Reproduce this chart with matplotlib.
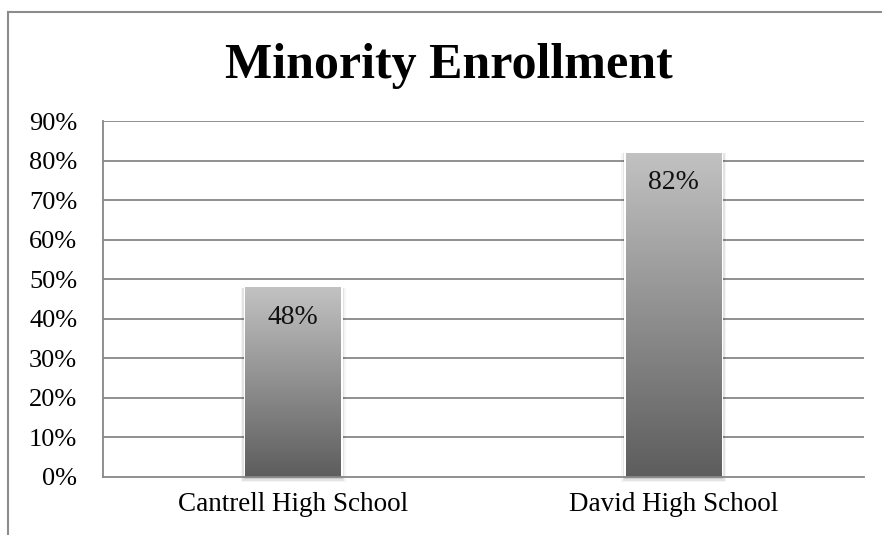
import matplotlib.pyplot as plt
import numpy as np
from matplotlib.colors import LinearSegmentedColormap
from matplotlib.lines import Line2D

schools = ["Cantrell High School", "David High School"]
enrollment = [0.48, 0.82]
bar_labels = ["48%", "82%"]
y_ticks = [0.0, 0.1, 0.2, 0.3, 0.4, 0.5, 0.6, 0.7, 0.8, 0.9]
y_tick_labels = ["0%", "10%", "20%", "30%", "40%", "50%", "60%", "70%", "80%", "90%"]

plt.rcParams["font.family"] = ["Liberation Serif", "DejaVu Serif"]

W, H = 882, 535
fig = plt.figure(figsize=(W / 100, H / 100), dpi=100)
ax = fig.add_axes([103 / W, 1 - 476.7 / H, (864 - 103) / W, (476.7 - 121) / H])

grid_col = "#878787"
x = np.arange(len(schools))
ax.set_xlim(-0.5, len(schools) - 0.5)
ax.set_ylim(0, 0.9)

# gridlines
for yv in y_ticks[1:]:
    ax.axhline(yv, color=grid_col, lw=1.3, zorder=1)

bars = ax.bar(x, enrollment, width=0.252, color="none", edgecolor="none", zorder=3)

# soft shadow round each bar
for b in bars:
    x0, w, h = b.get_x(), b.get_width(), b.get_height()
    for i, a in enumerate([0.10, 0.07, 0.04]):
        dx = 0.004 * (i + 1)
        dy = 0.003 * (i + 1)
        ax.add_patch(plt.Rectangle((x0 - dx, -dy - 0.004), w + 2 * dx, h + dy + 0.002,
                                   facecolor="#000000", alpha=a, edgecolor="none",
                                   zorder=2, clip_on=False))
    ax.add_patch(plt.Rectangle((x0 - 0.004, 0.001), w + 0.008, h - 0.002,
                               facecolor="white", edgecolor="none", zorder=2.5))

# gradient fill, light grey at the top to dark grey at the bottom
cmap = LinearSegmentedColormap.from_list("bar", ["#5d5d5d", "#c2c2c2"])
grad = np.linspace(0, 1, 256).reshape(-1, 1)
for b in bars:
    x0, w, h = b.get_x(), b.get_width(), b.get_height()
    im = ax.imshow(grad, extent=(x0, x0 + w, 0, h), origin="lower", cmap=cmap,
                   aspect="auto", zorder=3, interpolation="bilinear")
    im.set_clip_path(b)

ax.set_xlim(-0.5, len(schools) - 0.5)
ax.set_ylim(0, 0.9)

for b, lab in zip(bars, bar_labels):
    ax.text(b.get_x() + b.get_width() / 2, b.get_height() - 0.076, lab,
            ha="center", va="center", fontsize=20, color="#111111", zorder=4)

ax.set_yticks(y_ticks)
ax.set_yticklabels(y_tick_labels, fontsize=19)
ax.set_xticks(x)
ax.set_xticklabels(schools, fontsize=19.5)
ax.tick_params(axis="y", length=0, pad=18.5)
ax.tick_params(axis="x", length=0, pad=11)

for s in ["top", "right"]:
    ax.spines[s].set_visible(False)
for s in ["left", "bottom"]:
    ax.spines[s].set_color(grid_col)
    ax.spines[s].set_linewidth(1.3)
    ax.spines[s].set_zorder(5)

fig.text(449 / W, 1 - 66 / H, "Minority Enrollment", ha="center", va="center",
         fontsize=36, fontweight="bold")

# outer chart border (only top and left are in frame)
fig.add_artist(Line2D([8 / W, 1.0], [1 - 12 / H, 1 - 12 / H], color="#8c8c8c", lw=1.5,
                      transform=fig.transFigure))
fig.add_artist(Line2D([8 / W, 8 / W], [0.0, 1 - 12 / H], color="#8c8c8c", lw=1.5,
                      transform=fig.transFigure))

fig.savefig("out.png", dpi=100)
